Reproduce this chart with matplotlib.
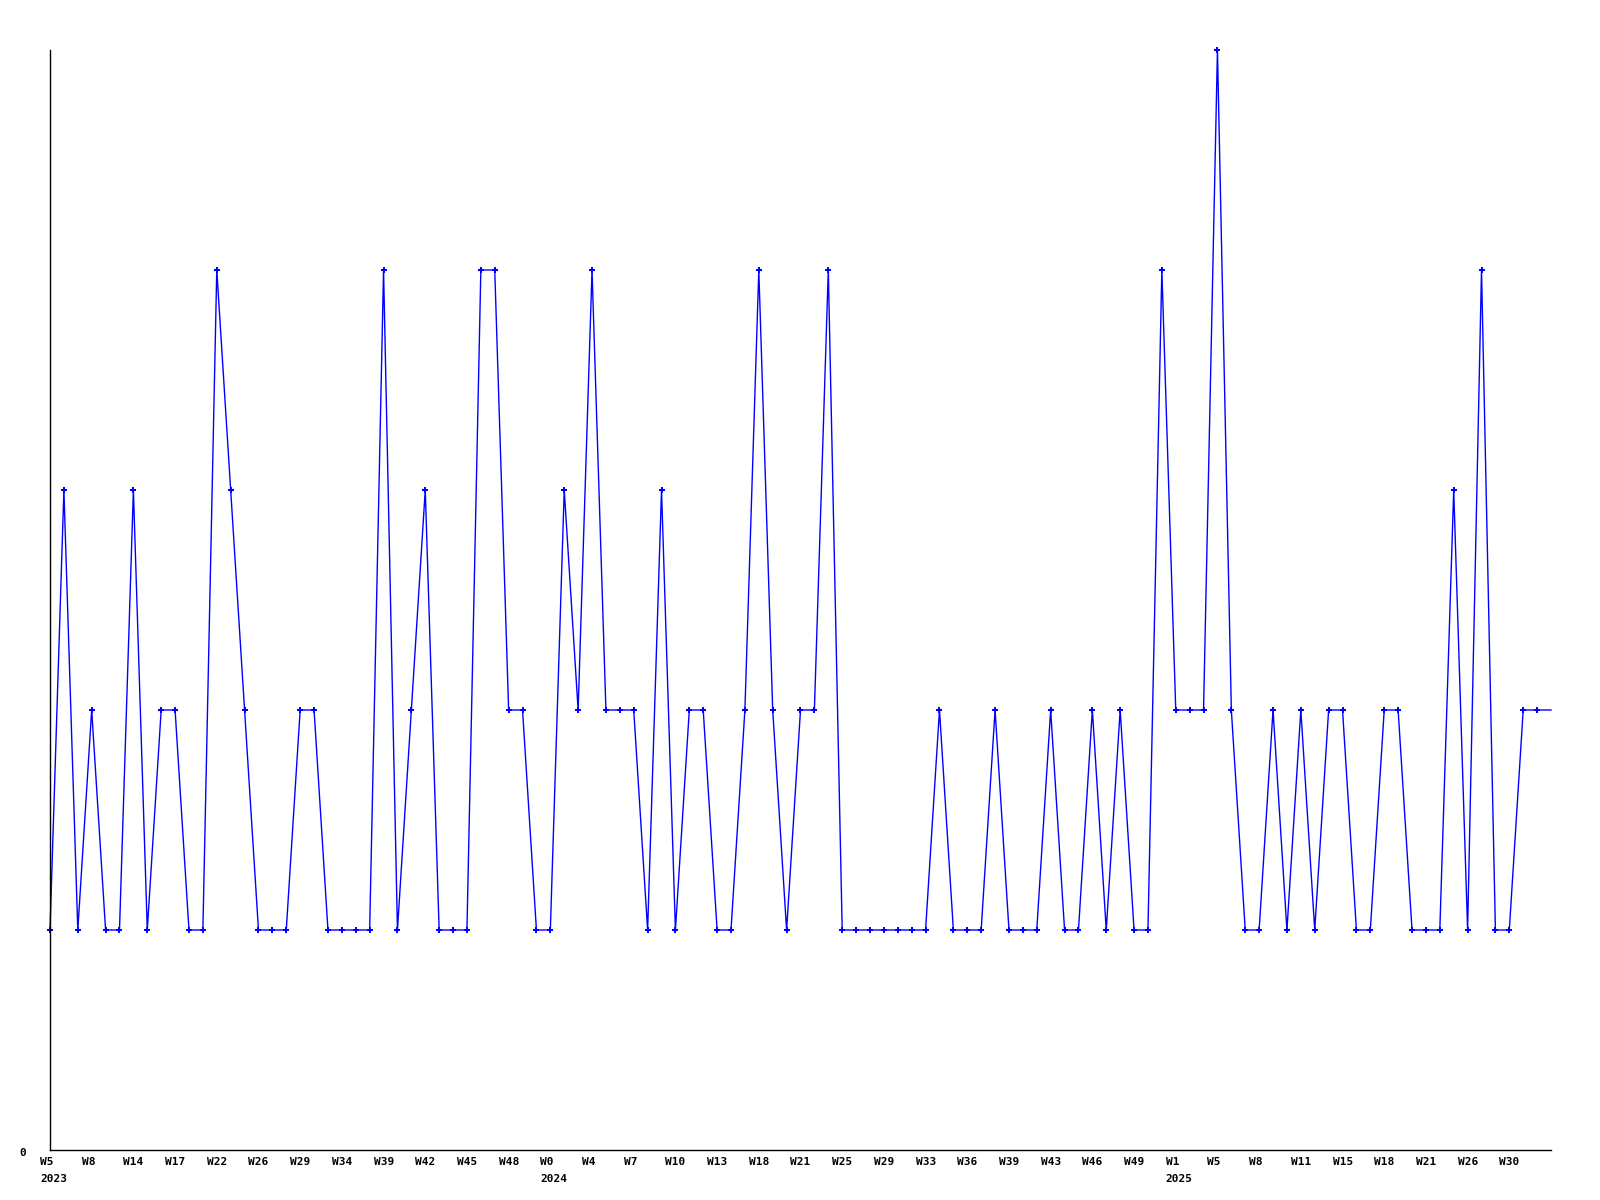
import matplotlib
matplotlib.use("Agg")
import matplotlib.pyplot as plt
import matplotlib.transforms as mtransforms

values = [1, 3, 1, 2, 1, 1, 3, 1, 2, 2, 1, 1, 4, 3, 2, 1, 1, 1, 2, 2,
          1, 1, 1, 1, 4, 1, 2, 3, 1, 1, 1, 4, 4, 2, 2, 1, 1, 3, 2, 4,
          2, 2, 2, 1, 3, 1, 2, 2, 1, 1, 2, 4, 2, 1, 2, 2, 4, 1, 1, 1,
          1, 1, 1, 1, 2, 1, 1, 1, 2, 1, 1, 1, 2, 1, 1, 2, 1, 2, 1, 1,
          4, 2, 2, 2, 5, 2, 1, 1, 2, 1, 2, 1, 2, 2, 1, 1, 2, 2, 1, 1,
          1, 3, 1, 4, 1, 1, 2, 2, 2]

week_labels = ["W5", "W8", "W14", "W17", "W22", "W26", "W29", "W34", "W39",
               "W42", "W45", "W48", "W0", "W4", "W7", "W10", "W13", "W18",
               "W21", "W25", "W29", "W33", "W36", "W39", "W43", "W46", "W49",
               "W1", "W5", "W8", "W11", "W15", "W18", "W21", "W26", "W30"]
label_step = 3
year_labels = {0: "2023", 12: "2024", 27: "2025"}

fig = plt.figure(figsize=(16, 12), dpi=100)
ax = fig.add_axes([50/1600, 1 - 1150/1200, (1551-50)/1600, (1150-50)/1200])

x = list(range(len(values)))
ax.plot(x, values, color="#0000ff", lw=1.0, marker="P", markersize=4.5,
        markeredgewidth=0, markevery=list(range(len(values) - 1)),
        clip_on=False)

ax.set_xlim(0, len(values) - 1)
ax.set_ylim(0, 5)
for s in ["top", "right"]:
    ax.spines[s].set_visible(False)
for s in ["left", "bottom"]:
    ax.spines[s].set_linewidth(1.0)
    ax.spines[s].set_color("black")
ax.set_xticks([])
ax.set_yticks([])

font = dict(family="DejaVu Sans Mono", fontweight="bold", fontsize=8, color="black")
trans = mtransforms.blended_transform_factory(ax.transData, ax.transAxes)
off = mtransforms.ScaledTranslation(-10/100, 0, fig.dpi_scale_trans)
for k, lab in enumerate(week_labels):
    xi = k * label_step
    ax.text(xi, 0, lab, transform=trans + off + mtransforms.ScaledTranslation(0, -12/100, fig.dpi_scale_trans),
            ha="left", va="center", **font)
    if k in year_labels:
        ax.text(xi, 0, year_labels[k], transform=trans + off + mtransforms.ScaledTranslation(0, -29/100, fig.dpi_scale_trans),
                ha="left", va="center", **font)

ax.text(0, 0, "0", transform=ax.transData + mtransforms.ScaledTranslation(-27/100, -3/100, fig.dpi_scale_trans),
        ha="center", va="center", **font)

fig.savefig("out.png", dpi=100, facecolor="white")
